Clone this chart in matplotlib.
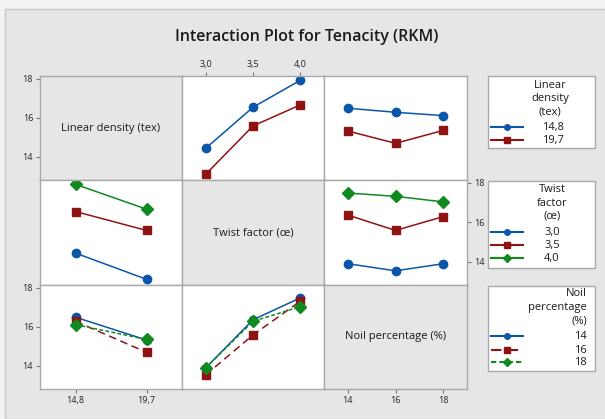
import matplotlib
matplotlib.use("Agg")
import matplotlib.pyplot as plt
from matplotlib.lines import Line2D
from matplotlib.patches import Rectangle

plt.rcParams['font.family'] = ['Open Sans', 'DejaVu Sans']

# factor levels
ld_levels = ["14,8", "19,7"]
tf_levels = ["3,0", "3,5", "4,0"]
np_levels = ["14", "16", "18"]

# mean tenacity (RKM) for each pair of factors
ld_by_tf = [[14.44, 16.55, 17.93],   # rows: linear density, cols: twist factor
            [13.11, 15.59, 16.67]]
ld_by_np = [[16.50, 16.29, 16.12],   # rows: linear density, cols: noil %
            [15.33, 14.70, 15.36]]
tf_by_np = [[13.90, 13.54, 13.90],   # rows: twist factor, cols: noil %
            [16.37, 15.59, 16.29],
            [17.49, 17.32, 17.04]]

factor_names = ["Linear density (tex)", "Twist factor (œ)", "Noil percentage (%)"]
levels = [ld_levels, tf_levels, np_levels]

W, H = 605, 419
BG = '#e6e6e6'
EDGE = '#a9a9a9'
blue, red, green = '#0b56a8', '#8e1414', '#108a1e'

# style of each line, by factor drawn as lines
line_styles = {
    0: [dict(color=blue, marker='o', ls='-', ms=6),
        dict(color=red, marker='s', ls='-', ms=6)],
    1: [dict(color=blue, marker='o', ls='-', ms=6),
        dict(color=red, marker='s', ls='-', ms=6),
        dict(color=green, marker='D', ls='-', ms=6.5)],
    2: [dict(color=blue, marker='o', ls='-', ms=6),
        dict(color=red, marker='s', ls=(0, (5, 3)), ms=6),
        dict(color=green, marker='D', ls=(0, (2.5, 1.5)), ms=6.5)],
}


def table(line_f, x_f):
    # returns values[line level][x level]
    if (line_f, x_f) == (0, 1): return ld_by_tf
    if (line_f, x_f) == (0, 2): return ld_by_np
    if (line_f, x_f) == (1, 2): return tf_by_np
    src = table(x_f, line_f)
    return [list(r) for r in zip(*src)]


def rect(x0, y0, x1, y1):
    return [x0 / W, 1 - y1 / H, (x1 - x0) / W, (y1 - y0) / H]


fig = plt.figure(figsize=(W / 100, H / 100), dpi=100, facecolor='#f2f2f2')
fig.patches.append(Rectangle((5 / W, 0), 1, 1 - 9 / H, transform=fig.transFigure,
                             facecolor=BG, edgecolor='#c8c8c8', lw=1, zorder=-5))

fig.text(307 / W, 1 - 37 / H, "Interaction Plot for Tenacity (RKM)", ha='center', va='center',
         fontsize=11.5, fontweight='semibold', color='#1a1a1a')

cols = [(40, 182), (182, 324), (324, 467)]
rows = [(76, 180), (180, 285), (285, 389)]

for i in range(3):
    for j in range(3):
        ax = fig.add_axes(rect(cols[j][0], rows[i][0], cols[j][1], rows[i][1]))
        ax.set_ylim(12.82, 18.15)
        n = len(levels[j])
        ax.set_xlim(-0.5, n - 0.5)
        for s in ax.spines.values():
            s.set_color(EDGE)
            s.set_linewidth(1)
        ax.tick_params(length=3, width=0.8, color='#777777', labelsize=6.5,
                       labelcolor='#222222', pad=2)
        ax.set_xticks(range(n))
        ax.set_xticklabels(levels[j])
        ax.set_yticks([14, 16, 18])
        # tick placement like the Minitab matrix
        ax.tick_params(bottom=(i == 2 and j != 1), labelbottom=(i == 2 and j != 1),
                       top=(i == 0 and j == 1), labeltop=(i == 0 and j == 1),
                       left=(j == 0 and i != 1), labelleft=(j == 0 and i != 1),
                       right=(j == 2 and i == 1), labelright=(j == 2 and i == 1))
        if i == j:
            ax.set_facecolor(BG)
            ax.text(0.5, 0.5, factor_names[i], transform=ax.transAxes, ha='center',
                    va='center', fontsize=8, color='#1a1a1a')
            continue
        ax.set_facecolor('white')
        vals = table(i, j)
        for k, row in enumerate(vals):
            st = line_styles[i][k]
            ax.plot(range(n), row, color=st['color'], ls=st['ls'], lw=1.1,
                    marker=st['marker'], ms=st['ms'], mec=st['color'], mfc=st['color'])

# legends drawn as boxes on the right
lax = fig.add_axes([0, 0, 1, 1], facecolor='none')
lax.set_xlim(0, W)
lax.set_ylim(H, 0)
lax.axis('off')

boxes = [
    dict(box=(488, 76, 595, 148), title=["Linear", "density", "(tex)"], ty=[85, 98, 112],
         iy=[127, 140], f=0, ha='center', tx=550, lx=553),
    dict(box=(488, 181, 595, 268), title=["Twist", "factor", "(œ)"], ty=[189, 203, 216],
         iy=[232, 245, 258], f=1, ha='center', tx=552, lx=552),
    dict(box=(488, 286, 595, 371), title=["Noil", "percentage", "(%)"], ty=[293, 307, 321],
         iy=[336, 350, 362], f=2, ha='right', tx=587, lx=587),
]
for b in boxes:
    x0, y0, x1, y1 = b['box']
    lax.add_patch(Rectangle((x0, y0), x1 - x0, y1 - y0, facecolor='white',
                            edgecolor=EDGE, lw=1))
    for t, y in zip(b['title'], b['ty']):
        lax.text(b['tx'], y, t, ha=b['ha'], va='center', fontsize=8, color='#1a1a1a')
    for k, y in enumerate(b['iy']):
        st = line_styles[b['f']][k]
        lax.add_line(Line2D([491, 523], [y, y], color=st['color'], ls=st['ls'], lw=1.5))
        lax.add_line(Line2D([507], [y], color=st['color'], marker=st['marker'], ms=4,
                            mfc=st['color'], mec=st['color']))
        lax.text(b['lx'], y, levels[b['f']][k], ha=b['ha'], va='center', fontsize=8,
                 color='#1a1a1a')

fig.savefig("out.png", dpi=100, facecolor=fig.get_facecolor())
